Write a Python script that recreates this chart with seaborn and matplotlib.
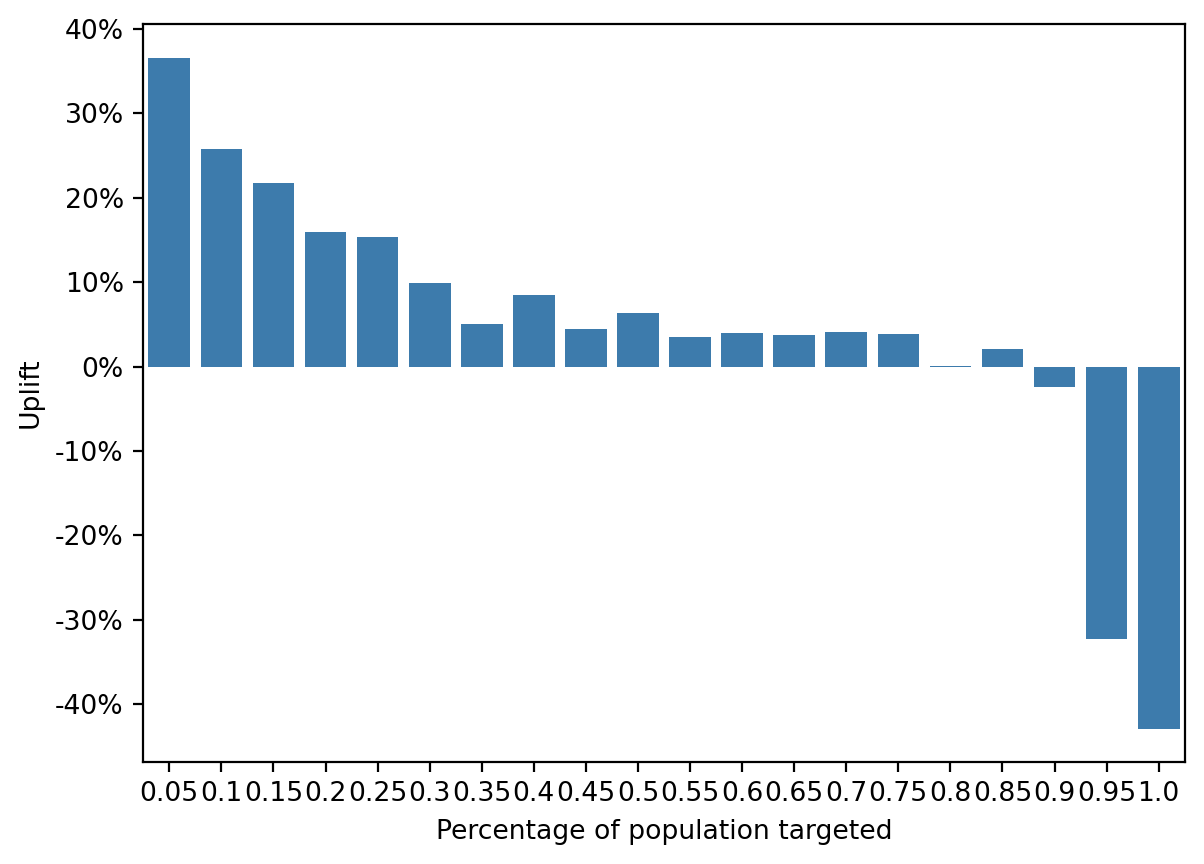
import matplotlib
matplotlib.use("Agg")
import matplotlib.pyplot as plt
import matplotlib.ticker as ticker
import seaborn as sns
import pandas as pd

# fração da população alvo e uplift observado
percentuais = ["0.05", "0.1", "0.15", "0.2", "0.25", "0.3", "0.35", "0.4", "0.45", "0.5",
               "0.55", "0.6", "0.65", "0.7", "0.75", "0.8", "0.85", "0.9", "0.95", "1.0"]
uplift = [0.366, 0.258, 0.217, 0.160, 0.153, 0.0995, 0.050, 0.085, 0.044, 0.063,
          0.0355, 0.040, 0.037, 0.0415, 0.038, 0.001, 0.021, -0.024, -0.323, -0.429]

df = pd.DataFrame({"percentual": percentuais, "uplift": uplift})

plt.rcParams["font.size"] = 9.6

fig, ax = plt.subplots(figsize=(6.02, 4.32), dpi=200)
sns.barplot(x="percentual", y="uplift", data=df, ax=ax, color="#3d7bac", saturation=1)
ax.yaxis.set_major_formatter(ticker.FuncFormatter(lambda v, _: f"{v:.0%}"))
ax.set_xlabel("Percentage of population targeted")
ax.set_ylabel("Uplift")
fig.subplots_adjust(left=0.119, right=0.984, top=0.972, bottom=0.118)
plt.savefig("out.png")
